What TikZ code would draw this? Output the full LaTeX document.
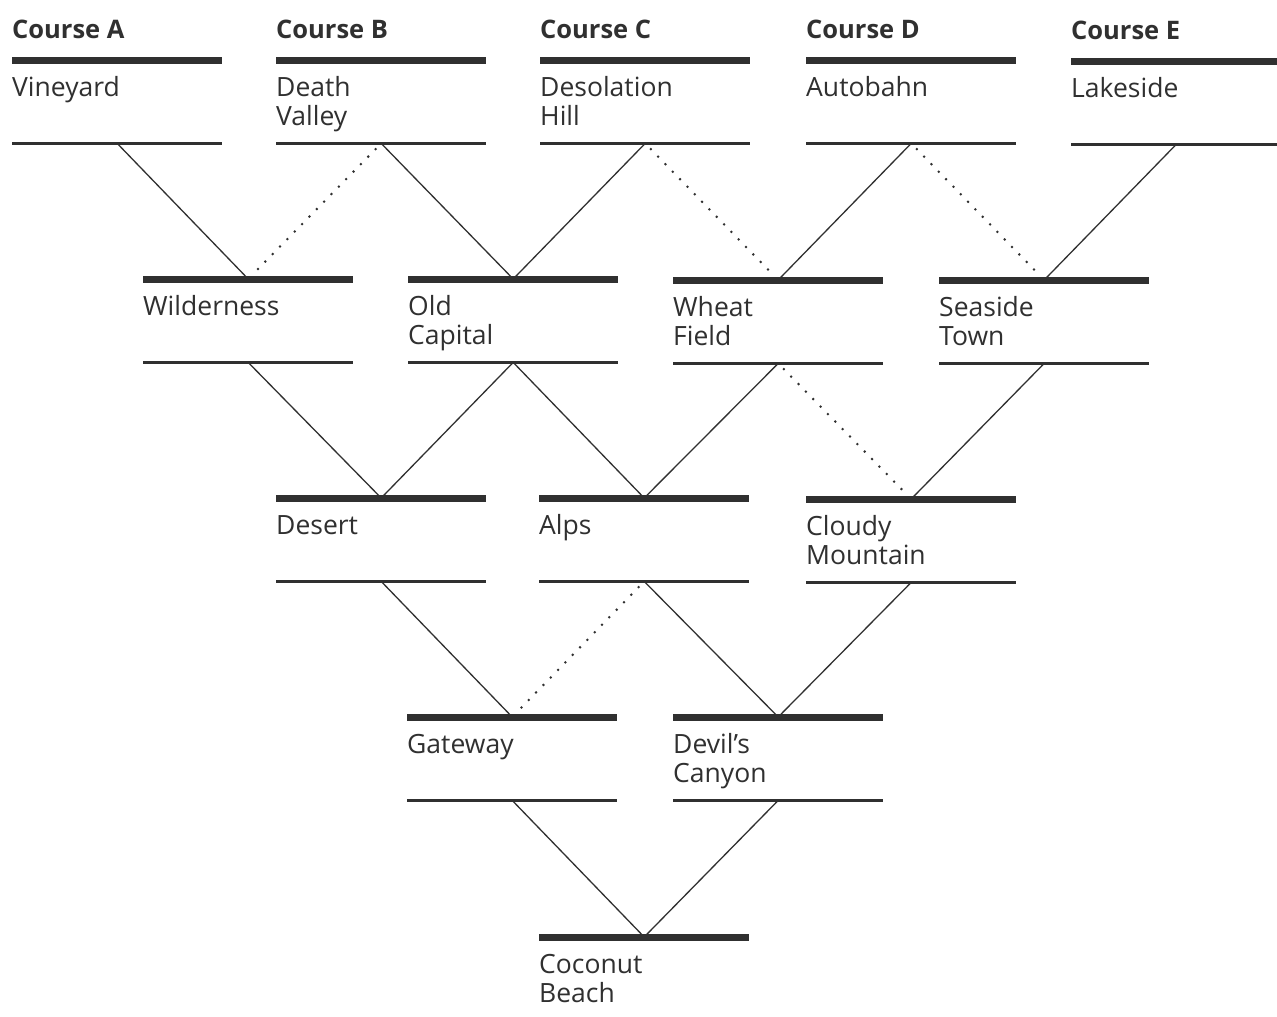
\documentclass[tikz,border=0pt]{standalone}
\usepackage{fontspec}
\setmainfont{Open Sans}
\definecolor{ink}{HTML}{303030}
\newcommand\twolines[2]{\vtop{\hbox{#1}\hbox{#2}}}
\newcommand\stage[5][]{%
  \node[boxshape] (#2) at (#3,#4) {};
  \draw[topbar] (#2.north west) -- (#2.north east);
  \draw[botbar,#1] (#2.south west) -- (#2.south east);
  \node[boxtext] (#2-t) at ([yshift=-36pt]#2.north west) {#5};
}
\begin{document}
\begin{tikzpicture}[x=1pt,y=-1pt,
  boxshape/.style={rectangle, minimum width=210pt, minimum height=83pt, inner sep=0pt, anchor=north west},
  topbar/.style={line width=7pt, ink},
  botbar/.style={line width=3.5pt, ink},
  boxtext/.style={anchor=base west, inner sep=0pt, font=\fontsize{26.5}{29}\selectfont, text=ink},
  heading/.style={anchor=base west, inner sep=0pt, font=\fontsize{25.5}{28}\selectfont\bfseries, text=ink},
  link/.style={line width=1.3pt, ink},
  dotlink/.style={line width=2.8pt, ink, line cap=round, dash pattern=on 0pt off 10.5pt, shorten <=8pt, shorten >=6pt}
]
\useasboundingbox (0,0) rectangle (1277,1017);
\fill[white] (0,0) rectangle (1277,1017);

% row 0
\stage{vin}{12}{60}{Vineyard}
\stage{dv}{276}{60}{\twolines{Death}{Valley}}
\stage{dh}{540}{60}{\twolines{Desolation}{Hill}}
\stage{aut}{806}{60}{Autobahn}
\stage{lak}{1071}{61}{Lakeside}
\node[heading] (hA) at ([yshift=22pt]vin.north west) {Course A};
\node[heading] (hB) at ([yshift=22pt]dv.north west) {Course B};
\node[heading] (hC) at ([yshift=22pt]dh.north west) {Course C};
\node[heading] (hD) at ([yshift=22pt]aut.north west) {Course D};
\node[heading] (hE) at ([yshift=22pt]lak.north west) {Course E};

% row 1
\stage{wil}{143}{279}{Wilderness}
\stage{oc}{408}{279}{\twolines{Old}{Capital}}
\stage{wf}{673}{280}{\twolines{Wheat}{Field}}
\stage{st}{939}{280}{\twolines{Seaside}{Town}}

% row 2
\stage{des}{276}{498}{Desert}
\stage{alp}{539}{498}{Alps}
\stage{cm}{806}{499}{\twolines{Cloudy}{Mountain}}

% row 3
\stage{gw}{407}{717}{Gateway}
\stage{dc}{673}{717}{\twolines{Devil’s}{Canyon}}

% row 4
\stage[ink!15]{cb}{539}{937}{\twolines{Coconut}{Beach}}

% connectors
\draw[link] (vin.south) -- (wil.north);
\draw[dotlink] (dv.south) -- (wil.north);
\draw[link] (dv.south) -- (oc.north);
\draw[link] (dh.south) -- (oc.north);
\draw[dotlink] (dh.south) -- (wf.north);
\draw[link] (aut.south) -- (wf.north);
\draw[dotlink] (aut.south) -- (st.north);
\draw[link] (lak.south) -- (st.north);

\draw[link] (wil.south) -- (des.north);
\draw[link] (oc.south) -- (des.north);
\draw[link] (oc.south) -- (alp.north);
\draw[link] (wf.south) -- (alp.north);
\draw[dotlink] (wf.south) -- (cm.north);
\draw[link] (st.south) -- (cm.north);

\draw[link] (des.south) -- (gw.north);
\draw[dotlink] (alp.south) -- (gw.north);
\draw[link] (alp.south) -- (dc.north);
\draw[link] (cm.south) -- (dc.north);

\draw[link] (gw.south) -- (cb.north);
\draw[link] (dc.south) -- (cb.north);
\end{tikzpicture}
\end{document}
